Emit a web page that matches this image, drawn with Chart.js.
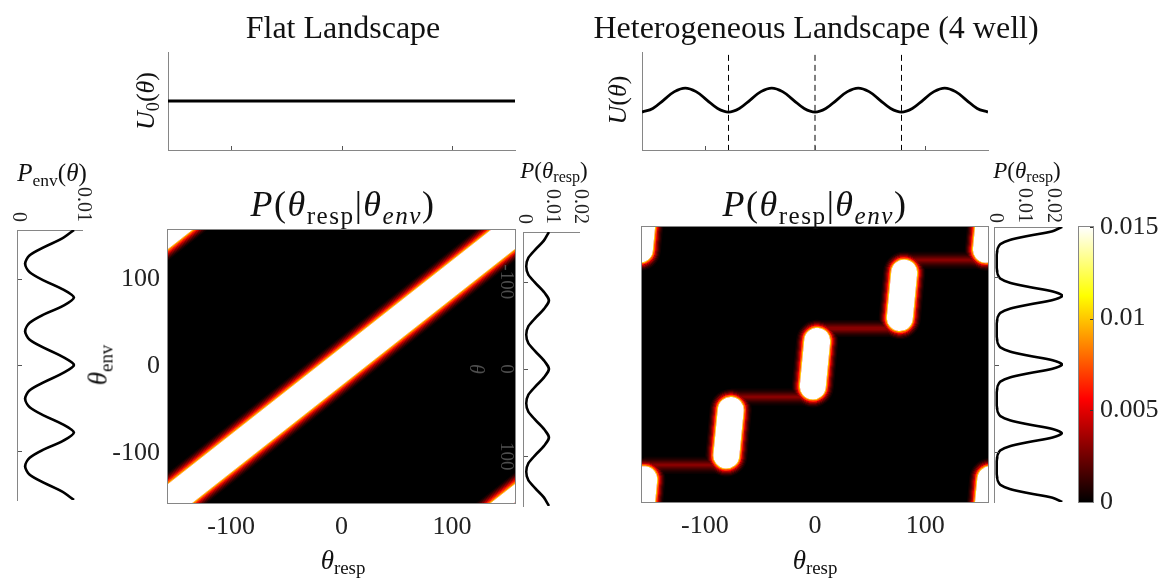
<!DOCTYPE html>
<html>
<head>
<meta charset="utf-8">
<title>P(theta_resp | theta_env)</title>
<script src="https://cdn.jsdelivr.net/npm/chart.js@4.4.1/dist/chart.umd.min.js"></script>
<style>
  body { margin: 0; background: #fff; }
  #fig { position: relative; width: 1166px; height: 578px; overflow: hidden; font-family: 'Liberation Serif', 'Times New Roman', serif; color: #111; }
  #fig canvas { position: absolute; }
  .turn { transform-origin: 0 0; }
  .lbl { position: absolute; white-space: nowrap; line-height: 1; transform: translate(-50%, -50%); }
  .lbl.up { transform: translate(-50%, -50%) rotate(-90deg); }
  .lbl sub { font-size: 0.7em; vertical-align: -0.3em; line-height: 0; }
  .ttl { font-size: 36px; letter-spacing: 1.5px; }
</style>
</head>
<body>
<div id="fig">
  <canvas id="uFlat" width="410" height="122" style="left:120px;top:40px"></canvas>
  <canvas id="uHet" width="409" height="122" style="left:594px;top:40px"></canvas>
  <canvas id="heatFlat" width="430" height="340" style="left:100px;top:215px"></canvas>
  <canvas id="heatHet" width="400" height="343" style="left:600px;top:212px"></canvas>
  <canvas id="pEnv" class="turn" width="325" height="105" style="left:-2px;top:180px;transform:translate(105px,0) rotate(90deg)"></canvas>
  <canvas id="pRespFlat" class="turn" width="331" height="140" style="left:460px;top:180px;transform:translate(140px,0) rotate(90deg)"></canvas>
  <canvas id="pRespHet" class="turn" width="332" height="113" style="left:960px;top:175px;transform:translate(113px,0) rotate(90deg)"></canvas>
  <canvas id="cbar" width="96" height="323" style="left:1070px;top:203px"></canvas>

  <div class="lbl" style="left:343px;top:27px;font-size:32px">Flat Landscape</div>
  <div class="lbl" style="left:816px;top:27px;font-size:32px">Heterogeneous Landscape (4 well)</div>
  <div class="lbl up" style="left:146px;top:101px;font-size:26px"><i>U</i><sub>0</sub>(<i>θ</i>)</div>
  <div class="lbl up" style="left:618px;top:100px;font-size:26px"><i>U</i>(<i>θ</i>)</div>
  <div class="lbl" style="left:52px;top:172px;font-size:25px"><i>P</i><sub>env</sub>(<i>θ</i>)</div>
  <div class="lbl" style="left:554px;top:170px;font-size:23px"><i>P</i>(<i>θ</i><sub>resp</sub>)</div>
  <div class="lbl" style="left:1027px;top:170px;font-size:23px"><i>P</i>(<i>θ</i><sub>resp</sub>)</div>
  <div class="lbl ttl" style="left:343px;top:204px"><i>P</i>(<i>θ</i><sub>resp</sub>|<i>θ</i><sub><i>env</i></sub>)</div>
  <div class="lbl ttl" style="left:815px;top:204px"><i>P</i>(<i>θ</i><sub>resp</sub>|<i>θ</i><sub><i>env</i></sub>)</div>
  <div class="lbl up" style="left:98px;top:365px;font-size:27px"><i>θ</i><sub>env</sub></div>
  <div class="lbl" style="left:343px;top:560px;font-size:27px"><i>θ</i><sub>resp</sub></div>
  <div class="lbl" style="left:815px;top:560px;font-size:27px"><i>θ</i><sub>resp</sub></div>
</div>

<script>
// ---- data ----
const PERIOD = 314.16;                 // θ wraps around every 314.16
const thetaRange = [-157.08, 157.08];
const thetaTicks = [-100, 0, 100];

// top left: flat landscape U0(θ)
const flatTheta = [-157.08, -78.54, 0, 78.54, 157.08];
const flatU = [0, 0, 0, 0, 0];

// top right: 4-well landscape U(θ), wells marked by dashed lines
const gridTheta = [-157.08, -147.26, -137.44, -127.63, -117.81, -107.99, -98.17, -88.36, -78.54,
  -68.72, -58.90, -49.09, -39.27, -29.45, -19.63, -9.82, 0, 9.82, 19.63, 29.45, 39.27, 49.09,
  58.90, 68.72, 78.54, 88.36, 98.17, 107.99, 117.81, 127.63, 137.44, 147.26, 157.08];
const hetU = [0, 0.15, 0.5, 0.85, 1, 0.85, 0.5, 0.15, 0, 0.15, 0.5, 0.85, 1, 0.85, 0.5, 0.15,
  0, 0.15, 0.5, 0.85, 1, 0.85, 0.5, 0.15, 0, 0.15, 0.5, 0.85, 1, 0.85, 0.5, 0.15, 0];
const wellTheta = [-78.54, 0, 78.54];

// side panels (θ on the vertical)
const pEnv = [0.0086, 0.0068, 0.0041, 0.0018, 0.0011, 0.0018, 0.0040, 0.0068, 0.0086, 0.0069,
  0.0040, 0.0018, 0.0011, 0.0018, 0.0041, 0.0068, 0.0086, 0.0068, 0.0041, 0.0018, 0.0011, 0.0018,
  0.0040, 0.0068, 0.0086, 0.0069, 0.0040, 0.0018, 0.0011, 0.0018, 0.0041, 0.0068, 0.0086];
const pRespFlat = [0.0089, 0.0071, 0.0042, 0.0016, 0.0008, 0.0016, 0.0042, 0.0071, 0.0089, 0.0071,
  0.0042, 0.0016, 0.0008, 0.0016, 0.0042, 0.0071, 0.0089, 0.0071, 0.0042, 0.0016, 0.0008, 0.0016,
  0.0042, 0.0071, 0.0089, 0.0071, 0.0042, 0.0016, 0.0008, 0.0016, 0.0042, 0.0071, 0.0089];
const fineTheta = [-157.08, -152.17, -147.26, -142.35, -137.44, -132.54, -127.63, -122.72, -117.81,
  -112.90, -107.99, -103.08, -98.17, -93.27, -88.36, -83.45, -78.54, -73.63, -68.72, -63.81, -58.90,
  -54.00, -49.09, -44.18, -39.27, -34.36, -29.45, -24.54, -19.63, -14.73, -9.82, -4.91, 0,
  4.91, 9.82, 14.73, 19.63, 24.54, 29.45, 34.36, 39.27, 44.18, 49.09, 54.00, 58.90, 63.81, 68.72,
  73.63, 78.54, 83.45, 88.36, 93.27, 98.17, 103.08, 107.99, 112.90, 117.81, 122.72, 127.63, 132.54,
  137.44, 142.35, 147.26, 152.17, 157.08];
const pRespHet = [0.0231, 0.0198, 0.0120, 0.0052, 0.0018, 0.0009, 0.0007, 0.0006, 0.0006, 0.0006,
  0.0007, 0.0009, 0.0018, 0.0052, 0.0121, 0.0199, 0.0233, 0.0199, 0.0121, 0.0052, 0.0018, 0.0009,
  0.0007, 0.0006, 0.0006, 0.0006, 0.0007, 0.0009, 0.0018, 0.0052, 0.0120, 0.0198, 0.0232, 0.0198,
  0.0120, 0.0052, 0.0018, 0.0009, 0.0007, 0.0006, 0.0006, 0.0006, 0.0007, 0.0009, 0.0018, 0.0052,
  0.0120, 0.0198, 0.0231, 0.0198, 0.0120, 0.0052, 0.0018, 0.0009, 0.0007, 0.0006, 0.0006, 0.0006,
  0.0007, 0.0009, 0.0018, 0.0052, 0.0120, 0.0198, 0.0232];

// heatmap ridges: flat case follows the diagonal
const flatRidgeResp = [-157.08, 157.08];
const flatRidgeEnv = [-157.08, 157.08];
// 4-well case: a bright pill per well, joined by faint links
const pillRespLo = [-159, -80.5, -2, 77];
const pillRespHi = [-155, -76.5, 2, 81];
const pillEnvLo = [-183, -104, -25, 53];
const pillEnvHi = [-131, -52, 27, 105];
const linkEnv = [-115, -37, 41, 119];

const cbarTicks = [0, 0.005, 0.01, 0.015];

// ---- drawing ----
Chart.defaults.font.family = "'Liberation Serif', 'Times New Roman', serif";
Chart.defaults.color = '#222';
Chart.defaults.animation = false;
Chart.defaults.events = [];
Chart.defaults.devicePixelRatio = 1;
Chart.defaults.plugins.legend.display = false;
Chart.defaults.plugins.tooltip.enabled = false;

const axisGrey = '#868686';
const ghostGrey = '#4d4d4d';

// matlab "hot" colormap
function hot(t) {
  const c = v => Math.round(255 * Math.min(1, Math.max(0, v)));
  return 'rgb(' + c(t / 0.375) + ',' + c((t - 0.375) / 0.375) + ',' + c((t - 0.75) / 0.25) + ')';
}

const setTicks = vals => s => { s.ticks = vals.map(v => ({ value: v })); };
const fixSize = (w, h) => s => {
  if (w != null) s.width = w;
  if (h != null) s.height = h;
  s.paddingTop = s.paddingBottom = s.paddingLeft = s.paddingRight = 0;
};
const pts = (xs, ys) => xs.map((x, i) => ({ x: x, y: ys[i] }));

// short ticks pointing into the plot
const innerTicks = {
  id: 'innerTicks',
  afterDraw(chart, args, opts) {
    const { ctx, chartArea: a } = chart;
    ctx.save();
    ctx.strokeStyle = opts.color || '#555';
    ctx.lineWidth = 1;
    (opts.axes || []).forEach(id => {
      const s = chart.scales[id];
      s.ticks.forEach(t => {
        const p = Math.round(s.getPixelForValue(t.value)) + 0.5;
        ctx.beginPath();
        if (s.isHorizontal()) {
          const y0 = s.position === 'top' ? a.top : a.bottom;
          ctx.moveTo(p, y0);
          ctx.lineTo(p, y0 + (s.position === 'top' ? 1 : -1) * opts.len);
        } else {
          const x0 = s.position === 'right' ? a.right : a.left;
          ctx.moveTo(x0, p);
          ctx.lineTo(x0 + (s.position === 'right' ? -1 : 1) * opts.len, p);
        }
        ctx.stroke();
      });
    });
    ctx.restore();
  }
};

// black image area, layers combined with "lighten" so the brightest wins, grey box
const heatPlugin = {
  id: 'heat',
  beforeDatasetsDraw(chart) {
    const { ctx, chartArea: a } = chart;
    ctx.save();
    ctx.fillStyle = '#000';
    ctx.fillRect(a.left, a.top, a.width, a.height);
    ctx.globalCompositeOperation = 'lighten';
  },
  afterDatasetsDraw(chart) {
    chart.ctx.restore();
  },
  afterDraw(chart) {
    const { ctx, chartArea: a } = chart;
    ctx.save();
    ctx.strokeStyle = axisGrey;
    ctx.lineWidth = 1;
    ctx.strokeRect(a.left - 0.5, a.top - 0.5, a.width + 1, a.height + 1);
    ctx.restore();
  }
};

// each ridge is repeated on the periodic copies, then drawn as glow layers
const bandLayers = [[9, 0.03], [8, 0.07], [7, 0.12], [6, 0.18], [5, 0.25], [4, 0.33], [3, 0.42],
  [2, 0.53], [1, 0.67], [0, 1]];
const pillLayers = [[8, 0.03], [7, 0.07], [6, 0.12], [5, 0.19], [4, 0.27], [3, 0.37], [2, 0.5],
  [1, 0.67], [0, 1]];
const linkLayers = [[7, 0.02], [6, 0.035], [5, 0.055], [4, 0.08], [3, 0.11], [2, 0.14], [1, 0.17], [0, 0.2]];

function ridgeLayers(segs, core, layers, cap) {
  const all = [];
  [-PERIOD, 0, PERIOD].forEach(dx => [-PERIOD, 0, PERIOD].forEach(dy => segs.forEach(seg => {
    seg.forEach(p => all.push({ x: p[0] + dx, y: p[1] + dy }));
    all.push({ x: null, y: null });
  })));
  return layers.map(([e, t]) => ({
    data: all.map(p => ({ x: p.x, y: p.y })),
    showLine: true, pointRadius: 0, tension: 0, clip: 0,
    borderColor: hot(t), borderWidth: core + 2 * e, borderCapStyle: cap
  }));
}

function heatChart(id, datasets, o) {
  return new Chart(document.getElementById(id), {
    type: 'scatter',
    data: { datasets: datasets },
    options: {
      responsive: false,
      layout: { padding: { top: o.top, right: o.right, left: 0, bottom: 0 } },
      scales: {
        x: {
          type: 'linear', min: thetaRange[0], max: thetaRange[1],
          afterBuildTicks: setTicks(thetaTicks),
          grid: { display: false, drawTicks: false }, border: { display: false },
          ticks: { font: { size: 26 }, padding: 9, maxRotation: 0, callback: v => String(v) },
          afterFit: fixSize(null, o.xh)
        },
        y: {
          type: 'linear', min: thetaRange[0], max: thetaRange[1],
          afterBuildTicks: setTicks(thetaTicks),
          grid: { display: false, drawTicks: false }, border: { display: false },
          ticks: { display: o.yLabels, font: { size: 26 }, padding: 8, callback: v => String(v) },
          afterFit: fixSize(o.yw, null)
        }
      }
    },
    plugins: [heatPlugin]
  });
}

// flat landscape heatmap
heatChart('heatFlat',
  ridgeLayers([[[flatRidgeResp[0], flatRidgeEnv[0]], [flatRidgeResp[1], flatRidgeEnv[1]]]], 30, bandLayers, 'butt'),
  { top: 15, right: 15, xh: 52, yw: 68, yLabels: true });

// 4-well heatmap
const pillSegs = pillRespLo.map((r, i) => [[r, pillEnvLo[i]], [pillRespHi[i], pillEnvHi[i]]]);
const linkSegs = linkEnv.map((e, i) => {
  const next = i < pillRespLo.length - 1 ? pillRespLo[i + 1] : pillRespLo[0] + PERIOD;
  return [[pillRespHi[i], e], [next, e]];
});
heatChart('heatHet',
  ridgeLayers(linkSegs, 3, linkLayers, 'butt').concat(ridgeLayers(pillSegs, 26, pillLayers, 'round')),
  { top: 15, right: 12, xh: 53, yw: 42, yLabels: false });

// top landscapes
function landscape(id, datasets, yMin, yMax) {
  return new Chart(document.getElementById(id), {
    type: 'scatter',
    data: { datasets: datasets },
    options: {
      responsive: false,
      layout: { padding: { top: 12, right: 15, left: 0, bottom: 0 } },
      scales: {
        x: {
          type: 'linear', min: thetaRange[0], max: thetaRange[1],
          afterBuildTicks: setTicks(thetaTicks),
          grid: { display: false, drawTicks: false }, border: { color: axisGrey },
          ticks: { display: false }, afterFit: fixSize(null, 12)
        },
        y: {
          min: yMin, max: yMax,
          grid: { display: false, drawTicks: false }, border: { color: axisGrey },
          ticks: { display: false }, afterFit: fixSize(48, null)
        }
      },
      plugins: { innerTicks: { axes: ['x'], len: 4 } }
    },
    plugins: [innerTicks]
  });
}

landscape('uFlat', [{
  data: pts(flatTheta, flatU), showLine: true, pointRadius: 0,
  borderColor: '#000', borderWidth: 3.2
}], -1, 1);

landscape('uHet', [{
  data: pts(gridTheta, hetU), showLine: true, pointRadius: 0, tension: 0.4,
  borderColor: '#000', borderWidth: 2.8
}].concat(wellTheta.map(w => ({
  data: [{ x: w, y: 2.38 }, { x: w, y: -1.58 }], showLine: true, pointRadius: 0,
  borderColor: '#000', borderWidth: 1, borderDash: [6, 4]
}))), -1.58, 2.5);

// side panels: drawn with θ horizontal, then the canvas is turned a quarter clockwise
function sidePanel(id, theta, p, pMax, pTicks, o) {
  return new Chart(document.getElementById(id), {
    type: 'scatter',
    data: { datasets: [{
      data: pts(theta, p), showLine: true, pointRadius: 0, tension: 0.3,
      borderColor: '#000', borderWidth: 2.6
    }] },
    options: {
      responsive: false,
      layout: { padding: { top: o.top, right: 5, left: 0, bottom: 0 } },
      scales: {
        x: {
          type: 'linear', min: thetaRange[0], max: thetaRange[1],
          afterBuildTicks: setTicks(thetaTicks),
          grid: { display: false, drawTicks: false }, border: { color: axisGrey },
          ticks: { display: !!o.ghost, color: ghostGrey, font: { size: 19 }, padding: 7, maxRotation: 0, callback: v => String(v) },
          title: { display: !!o.ghost, text: 'θ', color: ghostGrey, font: { size: 20, style: 'italic' }, padding: { top: 0, bottom: 3 } },
          afterFit: fixSize(null, o.xh)
        },
        y: {
          min: 0, max: pMax,
          afterBuildTicks: setTicks(pTicks),
          grid: { display: false, drawTicks: false }, border: { color: axisGrey },
          ticks: { font: { size: 20 }, padding: o.pad, callback: v => String(v) },
          afterFit: fixSize(o.yw, null)
        }
      },
      plugins: { innerTicks: { axes: ['x'], len: 4 } }
    },
    plugins: [innerTicks]
  });
}

sidePanel('pEnv', gridTheta, pEnv, 0.01, [0, 0.01], { top: 20, xh: 20, yw: 50, pad: 8 });
sidePanel('pRespFlat', gridTheta, pRespFlat, 0.02, [0, 0.01, 0.02], { top: 20, xh: 64, yw: 52, pad: 8, ghost: true });
sidePanel('pRespHet', fineTheta, pRespHet, 0.0235, [0, 0.01, 0.02], { top: 10, xh: 35, yw: 52, pad: 4 });

// colour bar
const boxPlugin = {
  id: 'box',
  afterDraw(chart) {
    const { ctx, chartArea: a } = chart;
    ctx.save();
    ctx.strokeStyle = axisGrey;
    ctx.lineWidth = 1;
    ctx.strokeRect(a.left - 0.5, a.top - 0.5, a.width + 1, a.height + 1);
    ctx.restore();
  }
};
new Chart(document.getElementById('cbar'), {
  type: 'bar',
  data: { labels: [''], datasets: [{
    data: [cbarTicks[cbarTicks.length - 1]],
    barPercentage: 1, categoryPercentage: 1, borderWidth: 0,
    backgroundColor: c => {
      const a = c.chart.chartArea;
      if (!a) return '#000';
      const g = c.chart.ctx.createLinearGradient(0, a.bottom, 0, a.top);
      [0, 0.375, 0.75, 1].forEach(t => g.addColorStop(t, hot(t)));
      return g;
    }
  }] },
  options: {
    responsive: false,
    layout: { padding: { left: 9, top: 24, bottom: 24, right: 0 } },
    scales: {
      x: { display: false },
      y: {
        position: 'right', min: 0, max: cbarTicks[cbarTicks.length - 1],
        afterBuildTicks: setTicks(cbarTicks),
        grid: { display: false, drawTicks: false }, border: { display: false },
        ticks: { font: { size: 26 }, padding: 7, callback: v => String(v) },
        afterFit: fixSize(73, null)
      }
    },
    plugins: { innerTicks: { axes: ['y'], len: 3, color: '#333' } }
  },
  plugins: [innerTicks, boxPlugin]
});
</script>
</body>
</html>
